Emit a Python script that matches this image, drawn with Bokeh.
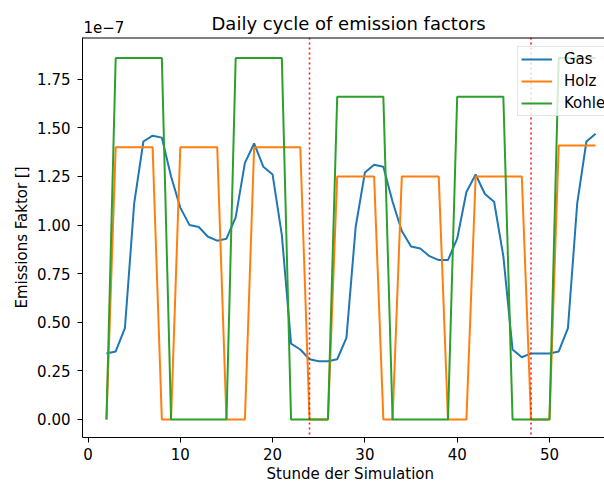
from bokeh.plotting import figure
from bokeh.models import (Span, Legend, LegendItem, FixedTicker,
                          PrintfTickFormatter, Title, Range1d)
from bokeh.embed import file_html
from bokeh.resources import INLINE

# ---- data (values in units of 1e-7) ----
hours = list(range(2, 56))
gas = [0.34, 0.35, 0.47, 1.11, 1.43, 1.46, 1.45, 1.25, 1.09, 1.00,
       0.99, 0.94, 0.92, 0.93, 1.04, 1.32, 1.42, 1.30, 1.26, 0.95,
       0.39, 0.36, 0.31, 0.30, 0.30, 0.31, 0.42, 0.99, 1.27, 1.31,
       1.30, 1.12, 0.97, 0.89, 0.88, 0.84, 0.82, 0.82, 0.93, 1.17,
       1.26, 1.16, 1.12, 0.84, 0.36, 0.32, 0.34, 0.34, 0.34, 0.35,
       0.47, 1.11, 1.43, 1.47]
holz = ([0.0] + [1.40] * 5 + [0.0] * 2 + [1.40] * 5 + [0.0] * 3 + [1.40] * 6 +
        [0.0] * 3 + [1.25] * 5 + [0.0] * 2 + [1.25] * 5 + [0.0] * 3 + [1.25] * 6 +
        [0.0] * 3 + [1.41] * 5)
kohle = ([0.0] + [1.86] * 6 + [0.0] * 7 + [1.86] * 6 + [0.0] * 5 +
         [1.66] * 6 + [0.0] * 7 + [1.66] * 6 + [0.0] * 5 + [1.86] * 5)
day_marks = [24, 48]
x_ticks = [0, 10, 20, 30, 40, 50]
y_ticks = [0.0, 0.25, 0.5, 0.75, 1.0, 1.25, 1.5, 1.75]

FONT = "DejaVu Sans"
Y_END = 1.965

p = figure(width=604, height=484, output_backend="svg", toolbar_location=None,
           title=None,
           x_range=Range1d(-0.596, 55.96), y_range=Range1d(-0.0926, Y_END),
           min_border_left=82, min_border_right=0, min_border_top=37,
           min_border_bottom=47)
p.outline_line_color = None
p.xgrid.visible = False
p.ygrid.visible = False
p.background_fill_color = "white"

for ax in (p.xaxis[0], p.yaxis[0]):
    ax.axis_line_color = "black"
    ax.axis_line_width = 1
    ax.major_tick_line_color = "black"
    ax.major_tick_out = 5
    ax.major_tick_in = 0
    ax.minor_tick_line_color = None
    ax.major_label_text_font = FONT
    ax.major_label_text_font_size = "15px"
    ax.major_label_text_color = "black"
    ax.axis_label_text_font = FONT
    ax.axis_label_text_font_size = "15px"
    ax.axis_label_text_font_style = "normal"
    ax.axis_label_text_color = "black"

p.xaxis[0].ticker = FixedTicker(ticks=x_ticks)
p.xaxis[0].major_label_standoff = 5
p.yaxis[0].ticker = FixedTicker(ticks=y_ticks)
p.yaxis[0].formatter = PrintfTickFormatter(format="%.2f")
p.yaxis[0].axis_label = "Emissions Faktor []"
p.yaxis[0].major_label_standoff = 7
p.yaxis[0].axis_label_standoff = 3

# x axis label, placed like matplotlib's (centred on the full axes box)
xlab = Title(text="Stunde der Simulation", align="left", offset=184,
             standoff=0, text_font=FONT, text_font_size="15px",
             text_font_style="normal", text_color="black")
p.add_layout(xlab, "below")

# offset text of the y axis
sci = Title(text="1e\u22127", align="left", offset=1, standoff=10,
            text_font=FONT, text_font_size="15px", text_font_style="normal",
            text_color="black")
p.add_layout(sci, "above")

main = Title(text="Daily cycle of emission factors", align="left", offset=129,
             standoff=-40, text_font=FONT, text_font_size="18px",
             text_font_style="normal", text_color="black")
p.add_layout(main, "above")

r_gas = p.line(hours, gas, line_color="#1f77b4", line_width=2)
r_holz = p.line(hours, holz, line_color="#ff7f0e", line_width=2)
r_kohle = p.line(hours, kohle, line_color="#2ca02c", line_width=2)

for d in day_marks:
    p.add_layout(Span(location=d, dimension="height", line_color="red",
                      line_width=1.6, line_dash="2 3", line_alpha=0.9))

# top spine (half of it falls inside the frame)
p.add_layout(Span(location=Y_END, dimension="width", line_color="black",
                  line_width=2))

legend = Legend(items=[LegendItem(label="Gas", renderers=[r_gas]),
                       LegendItem(label="Holz", renderers=[r_holz]),
                       LegendItem(label="Kohle", renderers=[r_kohle])],
                location=(435, 321))
legend.label_text_font = FONT
legend.label_text_font_size = "15px"
legend.label_text_color = "black"
legend.glyph_width = 31
legend.glyph_height = 18
legend.label_height = 18
legend.label_standoff = 12
legend.spacing = 4
legend.padding = 3
legend.margin = 0
legend.border_line_color = "#cccccc"
legend.border_line_width = 1
legend.background_fill_color = "white"
legend.background_fill_alpha = 0.8
p.add_layout(legend, "center")

open("out.html", "w").write(file_html(p, INLINE))
